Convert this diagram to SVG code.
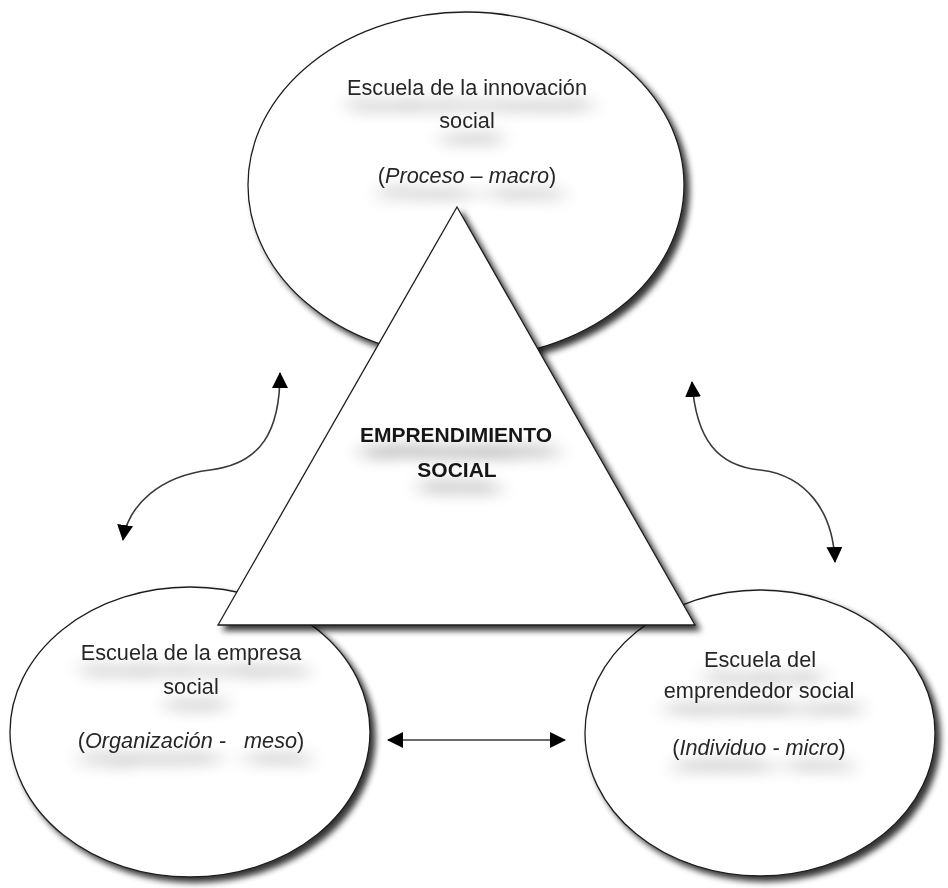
<svg xmlns="http://www.w3.org/2000/svg" width="948" height="888" viewBox="0 0 948 888">
  <defs>
    <style>
      .shape { fill: #ffffff; stroke: #1e1e1e; stroke-width: 1.3; }
      .lbl { font-family: "Liberation Sans", Arial, sans-serif; font-size: 21.7px; fill: #262626; text-anchor: middle; white-space: pre; }
      .core { font-weight: bold; font-size: 21px; fill: #151515; }
      .it { font-style: italic; }
      .link { fill: none; stroke: #3a3a3a; stroke-width: 1.6; }
    </style>
    <!-- soft drop shadow for the shapes -->
    <filter id="shadow" x="-10%" y="-10%" width="125%" height="125%">
      <feGaussianBlur in="SourceAlpha" stdDeviation="3"/>
      <feOffset dx="5" dy="5" result="off"/>
      <feComponentTransfer><feFuncA type="linear" slope="0.8"/></feComponentTransfer>
      <feMerge><feMergeNode/><feMergeNode in="SourceGraphic"/></feMerge>
    </filter>
    <!-- hazy shadow cast beneath each label -->
    <filter id="haze" x="-25%" y="-60%" width="150%" height="300%">
      <feGaussianBlur in="SourceAlpha" stdDeviation="11 7"/>
      <feOffset dx="4" dy="17" result="off"/>
      <feComponentTransfer><feFuncA type="linear" slope="0.45"/></feComponentTransfer>
      <feMerge><feMergeNode/><feMergeNode in="SourceGraphic"/></feMerge>
    </filter>
    <marker id="head" viewBox="0 0 16 16" markerWidth="16" markerHeight="16" refX="15" refY="8" orient="auto-start-reverse" markerUnits="userSpaceOnUse">
      <path d="M0,0 L16,8 L0,16 z" fill="#000000"/>
    </marker>
  </defs>

  <rect width="948" height="888" fill="#ffffff"/>

  <!-- top school: process / macro level -->
  <g id="innovacion">
    <ellipse class="shape" cx="466" cy="185" rx="218" ry="173" filter="url(#shadow)"/>
    <g filter="url(#haze)">
      <text class="lbl" x="467" y="95">Escuela de la innovación</text>
      <text class="lbl" x="467" y="128">social</text>
      <text class="lbl" x="467" y="183">(<tspan class="it">Proceso – macro</tspan>)</text>
    </g>
  </g>

  <!-- left school: organisation / meso level -->
  <g id="empresa">
    <ellipse class="shape" cx="190" cy="732" rx="180" ry="145" filter="url(#shadow)"/>
    <g filter="url(#haze)">
      <text class="lbl" x="191" y="660">Escuela de la empresa</text>
      <text class="lbl" x="191" y="694">social</text>
      <text class="lbl" x="191" y="748">(<tspan class="it">Organización -   meso</tspan>)</text>
    </g>
  </g>

  <!-- right school: individual / micro level -->
  <g id="emprendedor">
    <ellipse class="shape" cx="760" cy="733" rx="175" ry="143" filter="url(#shadow)"/>
    <g filter="url(#haze)">
      <text class="lbl" x="760" y="667">Escuela del</text>
      <text class="lbl" x="759" y="698">emprendedor social</text>
      <text class="lbl" x="759" y="755">(<tspan class="it">Individuo - micro</tspan>)</text>
    </g>
  </g>

  <!-- central triangle -->
  <g id="emprendimiento">
    <polygon class="shape" points="457,207 695,625 218,625" filter="url(#shadow)"/>
    <g filter="url(#haze)">
      <text class="lbl core" x="456" y="442">EMPRENDIMIENTO</text>
      <text class="lbl core" x="457" y="477">SOCIAL</text>
    </g>
  </g>

  <!-- two-way relations between the schools -->
  <g id="connectors">
    <path class="link" d="M280,373 C280,430 262,464 210,470 C160,476 128,505 123,540" marker-start="url(#head)" marker-end="url(#head)"/>
    <path class="link" d="M692,382 C696,440 718,466 760,470 C805,475 833,510 835,562" marker-start="url(#head)" marker-end="url(#head)"/>
    <path class="link" d="M388,740 L565,740" marker-start="url(#head)" marker-end="url(#head)"/>
  </g>
</svg>
